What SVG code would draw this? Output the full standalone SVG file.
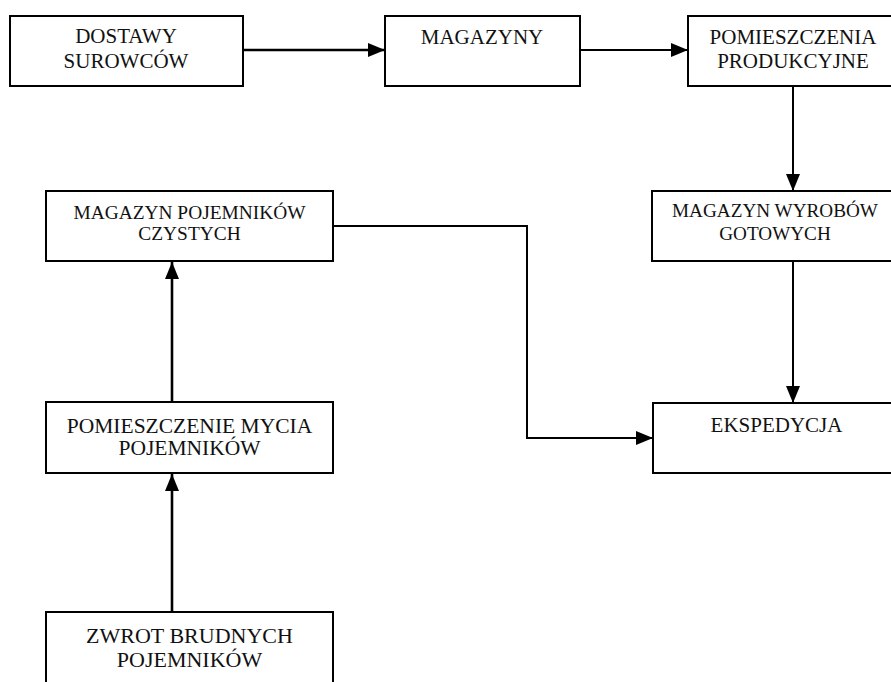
<svg xmlns="http://www.w3.org/2000/svg" width="891" height="682" viewBox="0 0 891 682">
<style>
.box{fill:#fff;stroke:#000;stroke-width:2}
.t{font-family:"Liberation Serif","Times New Roman",serif;fill:#111;text-anchor:middle}
.c{fill:none;stroke:#000;stroke-width:2}
.thick{stroke-width:2.6}
</style>
<defs>
<marker id="ah" markerUnits="userSpaceOnUse" markerWidth="18" markerHeight="14" refX="17" refY="7" orient="auto">
<path d="M0,0 L17,7 L0,14 Z" fill="#000"/>
</marker>
</defs>
<rect width="891" height="682" fill="#fff"/>
<g id="connectors">
<path class="c thick" d="M243,50 H385" marker-end="url(#ah)"/>
<path class="c" d="M580,50 H688" marker-end="url(#ah)"/>
<path class="c" d="M793,86 V191" marker-end="url(#ah)"/>
<path class="c" d="M793,261 V403" marker-end="url(#ah)"/>
<path class="c" d="M333,226 H527 V438 H653" marker-end="url(#ah)"/>
<path class="c thick" d="M172,402 V262" marker-end="url(#ah)"/>
<path class="c thick" d="M172,612 V474" marker-end="url(#ah)"/>
</g>
<g id="dostawy">
<rect class="box" x="10" y="16" width="233" height="70"/>
<text class="t" font-size="21" x="126" y="43">DOSTAWY</text>
<text class="t" font-size="21" x="126" y="68">SUROWCÓW</text>
</g>
<g id="magazyny">
<rect class="box" x="385" y="16" width="195" height="70"/>
<text class="t" font-size="21" x="482" y="44">MAGAZYNY</text>
</g>
<g id="pomieszczenia-produkcyjne">
<rect class="box" x="688" y="16" width="215" height="70"/>
<text class="t" font-size="21" x="793" y="44">POMIESZCZENIA</text>
<text class="t" font-size="21" x="793" y="68">PRODUKCYJNE</text>
</g>
<g id="magazyn-pojemnikow">
<rect class="box" x="46" y="191" width="287" height="70"/>
<text class="t" font-size="19.4" x="189.5" y="219">MAGAZYN POJEMNIKÓW</text>
<text class="t" font-size="19.4" x="189.5" y="240">CZYSTYCH</text>
</g>
<g id="magazyn-wyrobow">
<rect class="box" x="652" y="191" width="250" height="70"/>
<text class="t" font-size="19.2" x="775" y="217">MAGAZYN WYROBÓW</text>
<text class="t" font-size="19.2" x="775" y="240">GOTOWYCH</text>
</g>
<g id="mycie">
<rect class="box" x="46" y="402" width="287" height="71"/>
<text class="t" font-size="21.5" x="189.5" y="433">POMIESZCZENIE MYCIA</text>
<text class="t" font-size="21.5" x="189.5" y="455">POJEMNIKÓW</text>
</g>
<g id="ekspedycja">
<rect class="box" x="653" y="403" width="250" height="70"/>
<text class="t" font-size="21" x="776.5" y="432">EKSPEDYCJA</text>
</g>
<g id="zwrot">
<rect class="box" x="46" y="612" width="287" height="80"/>
<text class="t" font-size="22" x="189.5" y="643">ZWROT BRUDNYCH</text>
<text class="t" font-size="22" x="189.5" y="667">POJEMNIKÓW</text>
</g>
</svg>
